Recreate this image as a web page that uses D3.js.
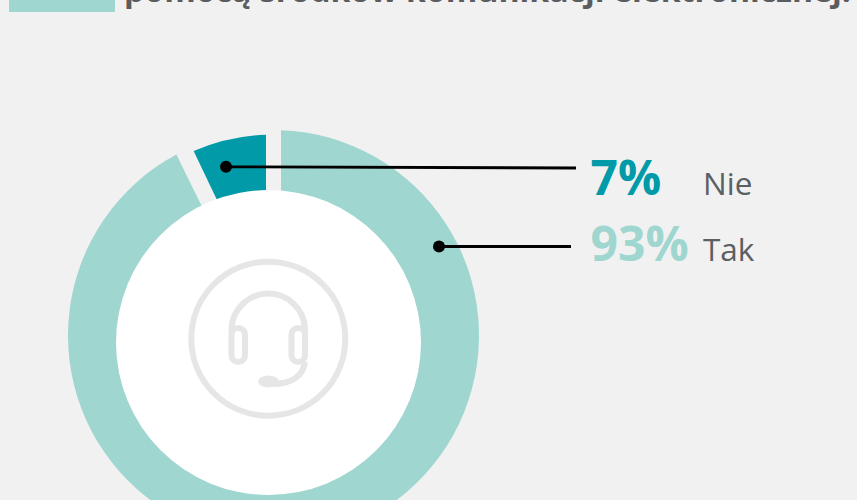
<!DOCTYPE html>
<html><head><meta charset="utf-8">
<script src="https://cdn.jsdelivr.net/npm/d3@7"></script>
<style>html,body{margin:0;padding:0;background:#f1f1f1;overflow:hidden}svg{display:block}text{font-family:"Open Sans",sans-serif}</style>
</head><body><svg id="c" width="857" height="500"></svg>
<script>
const categories = ["Tak", "Nie"];
const values = [93, 7];
const percentLabels = ["93%", "7%"];
const colors = ["#9fd6d0", "#009aa9"];
const titleText = "pomocą środków komunikacji elektronicznej.";

const svg = d3.select("#c");
svg.append("rect").attr("width",857).attr("height",500).attr("fill","#f1f1f1");
svg.append("rect").attr("x",9).attr("y",-20).attr("width",106).attr("height",32).attr("fill",colors[0]);
svg.append("text").attr("x",124).attr("y",2).attr("font-size",30).attr("font-weight",700).attr("fill","#5a5c5f").attr("textLength",727).attr("lengthAdjust","spacingAndGlyphs").text(titleText);

const pie = d3.pie().sort(null).value(d=>d)(values);
const outer = [205.5, 201];
const endTrim = [0.016, 0];
const startTrim = [0, -0.006];
const arc = d3.arc().innerRadius(130).padRadius(100).padAngle(0.15);
const g = svg.append("g").attr("transform","translate(273.5,335.5)");
g.selectAll("path").data(pie).join("path")
  .attr("d",(d,i)=>arc.outerRadius(outer[i])({...d,startAngle:d.startAngle+startTrim[i],endAngle:d.endAngle-endTrim[i]}))
  .attr("fill",(d,i)=>colors[i]);

svg.append("circle").attr("cx",268.5).attr("cy",342.5).attr("r",152.5).attr("fill","#fff");

// headset icon
const ic = svg.append("g").attr("fill","none").attr("stroke","#e6e6e6").attr("stroke-width",6);
ic.append("circle").attr("cx",268.3).attr("cy",338.7).attr("r",77);
ic.append("path").attr("d","M231.5 332V328.5A36.8 36.8 0 0 1 305 328.5V332");
ic.append("rect").attr("x",231.5).attr("y",328).attr("width",13.5).attr("height",34).attr("rx",6.7);
ic.append("rect").attr("x",291.5).attr("y",328).attr("width",13.5).attr("height",34).attr("rx",6.7);
ic.append("path").attr("d","M305 362C303 376 292 384 272 384");
svg.append("ellipse").attr("cx",268.5).attr("cy",381.5).attr("rx",10.5).attr("ry",6).attr("fill","#e6e6e6");

// leaders
const leaders = [
 {x1:439,y1:246.5,x2:571,y2:246.5,lx:590.5,tx:703,by:260.5},
 {x1:226,y1:166.8,x2:576,y2:168,lx:590.5,tx:703,by:195}
];
leaders.forEach((l,i)=>{
  svg.append("line").attr("x1",l.x1).attr("y1",l.y1).attr("x2",l.x2).attr("y2",l.y2).attr("stroke","#000").attr("stroke-width",2.8);
  svg.append("circle").attr("cx",l.x1).attr("cy",l.y1).attr("r",6).attr("fill","#000");
  svg.append("text").attr("x",l.lx).attr("y",l.by).attr("font-size",48).attr("font-weight",700).attr("fill",colors[i]).text(percentLabels[i]);
  svg.append("text").attr("x",l.tx).attr("y",l.by).attr("font-size",31.5).attr("fill","#5a5f63").text(categories[i]);
});
</script></body></html>
